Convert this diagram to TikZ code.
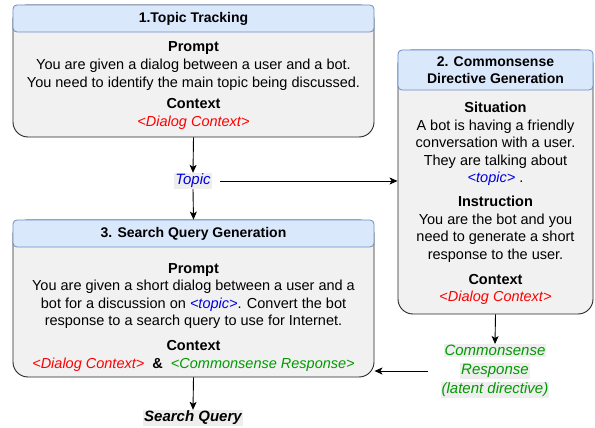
\documentclass[tikz,border=0pt]{standalone}
\usepackage{fontspec}
\setmainfont{Liberation Sans}
\usetikzlibrary{arrows.meta}
\definecolor{hdrfill}{HTML}{DAE8FC}
\definecolor{hdrline}{HTML}{6C8EBF}
\definecolor{bodyfill}{HTML}{F1F1F1}
\definecolor{topicblue}{HTML}{0000DD}
\definecolor{ctxred}{HTML}{FF0000}
\definecolor{csgreen}{HTML}{009900}
\definecolor{lblbg}{HTML}{EEEEEE}
\newcommand\lblbox[1]{{\setlength{\fboxsep}{1pt}\colorbox{lblbg}{#1}}}
\newcommand\tpc{\textcolor{topicblue}{\itshape <topic>}}
\newcommand\dctx{\textcolor{ctxred}{\itshape <Dialog Context>}}
\begin{document}
\begin{tikzpicture}[x=1pt,y=-1pt,
  bodybox/.style={draw=black!85, fill=bodyfill, rounded corners=15pt, line width=0.9pt, inner sep=0pt},
  hdrbox/.style={draw=hdrline, fill=hdrfill, rounded corners=4pt, line width=0.8pt, inner sep=0pt,
    align=center, font=\fontsize{14}{17}\selectfont\bfseries},
  bodytext/.style={inner sep=0pt, anchor=north, align=center},
  lbl/.style={inner sep=0pt, align=center, font=\fontsize{15}{19}\selectfont\itshape},
  conn/.style={line width=0.9pt, -{Stealth[length=8pt,width=7pt,inset=2pt]}}
]
\useasboundingbox (0,0) rectangle (595,428);

% Box 1
\node[bodybox, minimum width=361pt, minimum height=132pt] (b1) at (193.5,71) {};
\node[hdrbox, minimum width=361pt, minimum height=27pt] (h1) at (193.5,18.5) {1.Topic Tracking};
\node[bodytext, font=\fontsize{14.5}{18}\selectfont] (c1) at (193.5,41)
  {\textbf{Prompt}\\ You are given a dialog between a user and a bot.\\
   You need to identify the main topic being discussed.\\[3pt]
   \textbf{Context}\\ \dctx};

% Box 2
\node[bodybox, minimum width=195pt, minimum height=264pt] (b2) at (495.5,182) {};
\node[hdrbox, minimum width=195pt, minimum height=40pt] (h2) at (495.5,70) {2. Commonsense\\Directive Generation};
\node[bodytext, font=\fontsize{14.5}{17.5}\selectfont] (c2) at (495.5,102)
  {\textbf{Situation}\\ A bot is having a friendly\\ conversation with a user.\\
   They are talking about\\ \tpc\ .\\[6.5pt]
   \textbf{Instruction}\\ You are the bot and you\\ need to generate a short\\
   response to the user.\\[7.5pt]
   \textbf{Context}\\ \dctx};

% Box 3
\node[bodybox, minimum width=361pt, minimum height=157pt] (b3) at (193.5,298.5) {};
\node[hdrbox, minimum width=361pt, minimum height=27pt] (h3) at (193.5,233.5) {3. Search Query Generation};
\node[bodytext, font=\fontsize{14.5}{17.5}\selectfont] (c3) at (193.5,263)
  {\textbf{Prompt}\\ You are given a short dialog between a user and a\\
   bot for a discussion on \tpc. Convert the bot\\
   response to a search query to use for Internet.\\[7.5pt]
   \textbf{Context}\\ \dctx\ \ \textbf{\&}\ \ \textcolor{csgreen}{\itshape <Commonsense Response>}};

% Labels
\node[lbl, text=topicblue] (topic) at (193,181) {\lblbox{Topic}};
\node[lbl, text=csgreen] (cr) at (495,371) {\lblbox{Commonsense}\\ \lblbox{Response}\\ \lblbox{(latent directive)}};
\node[lbl, font=\fontsize{15}{19}\selectfont\bfseries\itshape] (sq) at (193,418) {\lblbox{Search Query}};

% Connectors
\draw[conn] (b1.south) -- (topic.north);
\draw[conn] (topic.south) -- (h3.north);
\draw[conn, shorten <=8pt] (topic.east) -- (topic.east -| b2.west);
\draw[conn] (b2.south) -- (cr.north);
\draw[conn, shorten <=12pt] (cr.west) -- (cr.west -| b3.east);
\draw[conn] (b3.south) -- (sq.north);
\end{tikzpicture}
\end{document}
